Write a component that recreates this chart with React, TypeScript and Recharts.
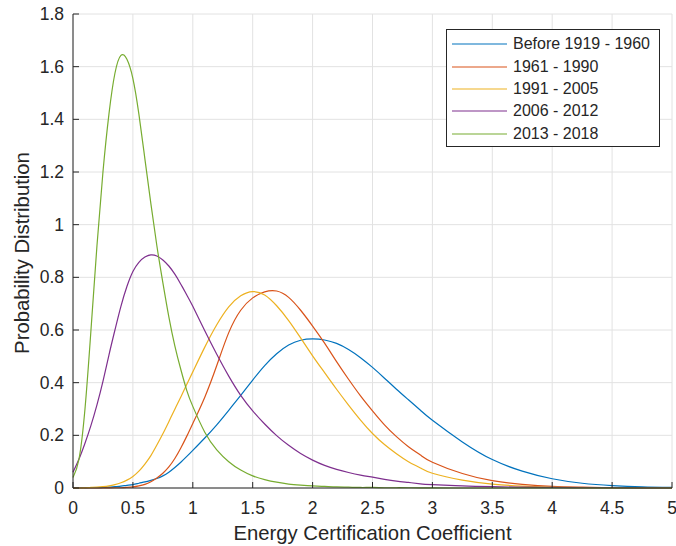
import React from 'react';
import { LineChart, Line, XAxis, YAxis, CartesianGrid, Legend } from 'recharts';

// energy certification coefficient (x) and the five density curves sampled on it
const xs = [
  0, 0.05, 0.1, 0.15, 0.2, 0.25, 0.3, 0.35, 0.4, 0.45, 0.5, 0.55, 0.6, 0.65, 0.7, 0.75, 0.8, 0.85, 0.9, 0.95, 1,
  1.1, 1.2, 1.3, 1.4, 1.5, 1.6, 1.7, 1.8, 1.9, 2, 2.1, 2.2, 2.3, 2.4, 2.5, 2.6, 2.7, 2.8, 2.9, 3,
  3.25, 3.5, 3.75, 4, 4.25, 4.5, 4.75, 5
];

const before1960 = [
  0, 0, 0.0005, 0.001, 0.001, 0.002, 0.003, 0.005, 0.007, 0.01, 0.013, 0.018, 0.023, 0.029, 0.036, 0.046, 0.06, 0.078, 0.098, 0.12, 0.143,
  0.19, 0.24, 0.295, 0.352, 0.41, 0.465, 0.51, 0.543, 0.561, 0.566, 0.562, 0.549, 0.526, 0.495, 0.458, 0.417, 0.375, 0.335, 0.295, 0.257,
  0.175, 0.108, 0.064, 0.035, 0.018, 0.009, 0.004, 0.002
];

const from1961 = [
  0, 0, 0, 0, 0, 0, 0.0005, 0.001, 0.001, 0.002, 0.004, 0.008, 0.014, 0.024, 0.038, 0.056, 0.08, 0.112, 0.152, 0.197, 0.245,
  0.345, 0.465, 0.59, 0.675, 0.722, 0.745, 0.748, 0.724, 0.675, 0.615, 0.55, 0.48, 0.413, 0.35, 0.293, 0.24, 0.195, 0.157, 0.125, 0.098,
  0.055, 0.028, 0.014, 0.006, 0.003, 0.001, 0.0005, 0
];

const from1991 = [
  0, 0, 0.001, 0.002, 0.003, 0.005, 0.008, 0.013, 0.02, 0.03, 0.044, 0.064, 0.091, 0.123, 0.163, 0.206, 0.252, 0.299, 0.346, 0.394, 0.441,
  0.535, 0.62, 0.688, 0.73, 0.746, 0.733, 0.692, 0.636, 0.57, 0.502, 0.438, 0.375, 0.315, 0.258, 0.207, 0.165, 0.13, 0.1, 0.076, 0.056,
  0.03, 0.015, 0.007, 0.003, 0.001, 0.0005, 0, 0
];

const from2006 = [
  0.06, 0.11, 0.17, 0.238, 0.316, 0.405, 0.505, 0.6, 0.69, 0.765, 0.822, 0.857, 0.877, 0.885, 0.881, 0.866, 0.843, 0.812, 0.774, 0.733, 0.69,
  0.597, 0.508, 0.425, 0.352, 0.293, 0.243, 0.199, 0.162, 0.131, 0.106, 0.086, 0.071, 0.059, 0.049, 0.041, 0.033, 0.026, 0.021, 0.016, 0.013,
  0.008, 0.005, 0.003, 0.002, 0.001, 0.001, 0.0005, 0
];

const from2013 = [
  0.04, 0.11, 0.3, 0.6, 0.92, 1.2, 1.42, 1.575, 1.643, 1.628, 1.555, 1.42, 1.25, 1.08, 0.92, 0.78, 0.65, 0.54, 0.45, 0.37, 0.31,
  0.212, 0.145, 0.1, 0.068, 0.046, 0.032, 0.022, 0.015, 0.011, 0.008, 0.006, 0.004, 0.003, 0.002, 0.002, 0.001, 0.001, 0.001, 0.0005, 0.0005,
  0, 0, 0, 0, 0, 0, 0, 0
];

const seriesNames = ['Before 1919 - 1960', '1961 - 1990', '1991 - 2005', '2006 - 2012', '2013 - 2018'];
const seriesColors = ['#0072BD', '#D95319', '#EDB120', '#7E2F8E', '#77AC30'];
const seriesValues = [before1960, from1961, from1991, from2006, from2013];

const xTicks = [0, 0.5, 1, 1.5, 2, 2.5, 3, 3.5, 4, 4.5, 5];
const yTicks = [0, 0.2, 0.4, 0.6, 0.8, 1, 1.2, 1.4, 1.6, 1.8];

const data = xs.map((x, i) => {
  const row: Record<string, number> = { x };
  seriesValues.forEach((vals, k) => {
    row['s' + k] = vals[i];
  });
  return row;
});

const INK = '#262626';
const FONT = '"Liberation Sans", Arial, Helvetica, sans-serif';
const TICK_LEN = 6;

// matlab-style ticks point into the plot box
const BottomTick = ({ x, y, payload }: any) => (
  <g>
    <line x1={x} y1={y} x2={x} y2={y - TICK_LEN} stroke={INK} />
    <text x={x} y={y + 26} textAnchor="middle" fill={INK} fontSize={17.5} fontFamily={FONT}>
      {payload.value}
    </text>
  </g>
);

const LeftTick = ({ x, y, payload }: any) => (
  <g>
    <line x1={x} y1={y} x2={x + TICK_LEN} y2={y} stroke={INK} />
    <text x={x - 9} y={y} dy="0.35em" textAnchor="end" fill={INK} fontSize={17.5} fontFamily={FONT}>
      {payload.value}
    </text>
  </g>
);

const TopTick = ({ x, y }: any) => <line x1={x} y1={y} x2={x} y2={y + TICK_LEN} stroke={INK} />;
const RightTick = ({ x, y }: any) => <line x1={x} y1={y} x2={x - TICK_LEN} y2={y} stroke={INK} />;

const XLabel = ({ viewBox }: any) => (
  <text
    x={viewBox.x + viewBox.width / 2}
    y={viewBox.y + 52}
    textAnchor="middle"
    fill={INK}
    fontSize={20.3}
    fontFamily={FONT}
  >
    Energy Certification Coefficient
  </text>
);

const YLabel = ({ viewBox }: any) => {
  const cx = 29;
  const cy = viewBox.y + viewBox.height / 2 + 2;
  return (
    <text
      x={cx}
      y={cy}
      transform={`rotate(-90, ${cx}, ${cy})`}
      textAnchor="middle"
      fill={INK}
      fontSize={20.3}
      fontFamily={FONT}
    >
      Probability Distribution
    </text>
  );
};

const LegendBox = () => (
  <div
    style={{
      width: 214,
      height: 118,
      boxSizing: 'border-box',
      border: `1px solid ${INK}`,
      background: '#fff',
      paddingTop: 3,
      fontFamily: FONT,
      fontSize: 16,
      color: INK
    }}
  >
    {seriesNames.map((name, i) => (
      <div key={name} style={{ display: 'flex', alignItems: 'center', height: 22.4 }}>
        <svg width={66} height={4} style={{ flex: 'none' }}>
          <line x1={5} y1={2} x2={60} y2={2} stroke={seriesColors[i]} strokeWidth={1.2} />
        </svg>
        <span style={{ whiteSpace: 'nowrap' }}>{name}</span>
      </div>
    ))}
  </div>
);

const App = () => (
  <div style={{ position: 'absolute', left: 0, top: 0, width: 676, height: 546, background: '#fff' }}>
    <LineChart width={676} height={546} data={data} margin={{ top: 14, right: 4, bottom: 0, left: 0 }}>
      <CartesianGrid stroke="#e2e2e2" strokeWidth={1} />
      <XAxis
        dataKey="x"
        type="number"
        domain={[0, 5]}
        ticks={xTicks}
        interval={0}
        height={58}
        tickSize={0}
        tickMargin={0}
        tick={BottomTick}
        axisLine={{ stroke: INK }}
        label={<XLabel />}
      />
      <YAxis
        type="number"
        domain={[0, 1.8]}
        ticks={yTicks}
        interval={0}
        width={73}
        tickSize={0}
        tickMargin={0}
        tick={LeftTick}
        axisLine={{ stroke: INK }}
        label={<YLabel />}
      />
      <XAxis
        xAxisId="top"
        orientation="top"
        type="number"
        domain={[0, 5]}
        allowDataOverflow
        ticks={xTicks}
        interval={0}
        height={0}
        tickSize={0}
        tickMargin={0}
        tick={TopTick}
        axisLine={{ stroke: INK }}
      />
      <YAxis
        yAxisId="right"
        orientation="right"
        type="number"
        domain={[0, 1.8]}
        allowDataOverflow
        ticks={yTicks}
        interval={0}
        width={0}
        tickSize={0}
        tickMargin={0}
        tick={RightTick}
        axisLine={{ stroke: INK }}
      />
      {seriesNames.map((name, k) => (
        <Line
          key={name}
          name={name}
          type="natural"
          dataKey={'s' + k}
          stroke={seriesColors[k]}
          strokeWidth={1.2}
          dot={false}
          isAnimationActive={false}
        />
      ))}
      <Legend
        layout="vertical"
        align="center"
        verticalAlign="middle"
        wrapperStyle={{ left: 446, top: 29, width: 214, height: 118 }}
        content={<LegendBox />}
      />
    </LineChart>
  </div>
);

export default App;
